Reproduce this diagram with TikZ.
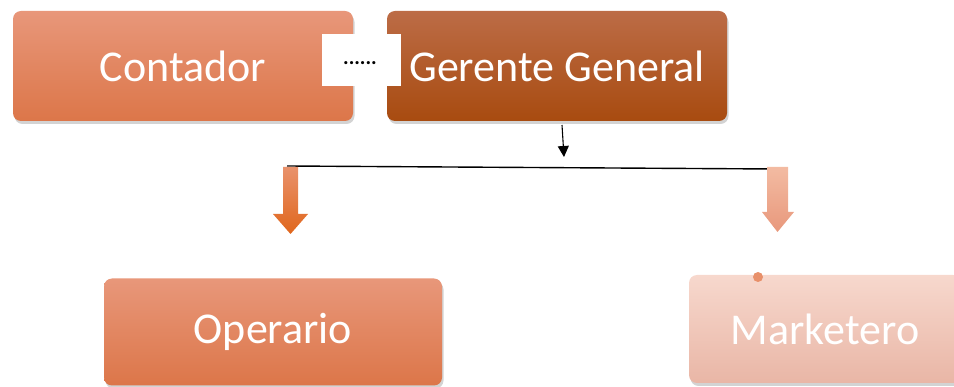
\documentclass[tikz,border=0pt]{standalone}
\usepackage{fontspec}
\setmainfont{Carlito}
\usetikzlibrary{shadows,arrows.meta}
\definecolor{ctop}{HTML}{E8977A}
\definecolor{cbot}{HTML}{DC7649}
\definecolor{gtop}{HTML}{BC6C46}
\definecolor{gbot}{HTML}{A84B10}
\definecolor{mtop}{HTML}{F7D8CD}
\definecolor{mbot}{HTML}{E9B6A6}
\definecolor{latop}{HTML}{E9926C}
\definecolor{labot}{HTML}{E0661C}
\definecolor{ratop}{HTML}{F3BBA2}
\definecolor{rabot}{HTML}{E8987C}
\definecolor{dotc}{HTML}{E8906A}
\tikzset{
  box/.style={rectangle, rounded corners=8pt, text=white, inner sep=0pt,
    font=\fontsize{44}{44}\selectfont,
    drop shadow={opacity=0.35, shadow xshift=1.5pt, shadow yshift=-3pt}},
  lightbox/.style={box, top color=ctop, bottom color=cbot},
  darkbox/.style={box, top color=gtop, bottom color=gbot},
  paleblock/.style={box, top color=mtop, bottom color=mbot},
  link/.style={draw=black, line width=1.4pt},
}
\begin{document}
\begin{tikzpicture}[x=1pt,y=-1pt]
\useasboundingbox (0,0) rectangle (954,387);
\clip (0,0) rectangle (954,387);
% top boxes
\node[lightbox, minimum width=340pt, minimum height=110pt] (cont) at (183,66) {Contador};
\node[darkbox, minimum width=340pt, minimum height=110pt] (ger) at (557,66) {Gerente General};
% white label box
\node[fill=white, minimum width=79pt, minimum height=52pt, inner sep=0pt] (wb) at (361.5,60) {};
\node[font=\fontsize{21}{21}\selectfont\bfseries, text=black, inner sep=0pt] (dots) at (360,63) {......};
% bottom boxes
\node[lightbox, minimum width=338pt, minimum height=107pt] (oper) at (273,332) {Operario};
\node[paleblock, minimum width=272pt, minimum height=108pt] (mark) at (825,329) {Marketero};
\fill[dotc] (758,277) circle (5pt);
% connectors
\coordinate (gs) at (562,125);
\coordinate (jt) at (564,157);
\coordinate (hl) at (287,166);
\coordinate (hr) at (775,169);
\draw[line width=1.1pt, -{Triangle[width=11pt,length=11pt]}] (gs) -- (jt);
\draw[link] (hl) -- (hr);
% block arrows
\shade[top color=latop, bottom color=labot]
  (283,167) -- (298,167) -- (298,214) -- (308,214) -- (290.5,234) -- (273,214) -- (283,214) -- cycle;
\shade[top color=ratop, bottom color=rabot]
  (767,167) -- (788,167) -- (788,212) -- (794,212) -- (777.5,232) -- (762,212) -- (767,212) -- cycle;
\end{tikzpicture}
\end{document}
